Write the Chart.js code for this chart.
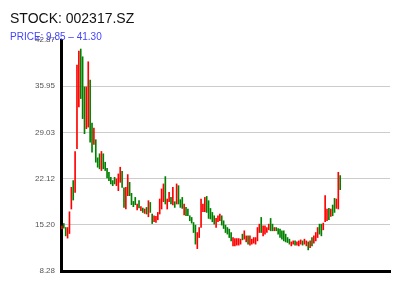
<!DOCTYPE html>
<html>
<head>
<meta charset="utf-8">
<script src="https://cdn.jsdelivr.net/npm/chart.js@4/dist/chart.umd.min.js"></script>
<style>
  body { margin: 0; background: #fff; }
  #wrap { position: relative; width: 400px; height: 300px; }
  #title { position: absolute; left: 10px; top: 10px; font: 14px "Liberation Sans", Arial, sans-serif; color: #111; }
  #subtitle { position: absolute; left: 10px; top: 31px; font: 10px "Liberation Sans", Arial, sans-serif; color: #4444ff; }
</style>
</head>
<body>
<div id="wrap">
  <canvas id="stockChart" width="400" height="300"></canvas>
  <div id="title">STOCK: 002317.SZ</div>
  <div id="subtitle">PRICE: 9.85 – 41.30</div>
</div>
<script>
const opens = [
  14.60, 15.39, 14.79, 13.20, 13.89, 17.56, 21.82, 20.06, 26.58, 32.84,
  41.52, 40.36, 35.85, 29.59, 29.83, 36.86, 30.43, 27.23, 27.94, 25.23,
  25.83, 23.32, 25.83, 24.57, 23.67, 23.06, 22.31, 21.82, 22.31, 21.06,
  20.31, 21.56, 23.21, 20.72, 17.56, 19.56, 21.56, 19.91, 18.70, 19.30,
  17.41, 18.81, 17.30, 17.71, 16.90, 17.80, 16.40, 18.55, 16.81, 15.65,
  15.54, 15.95, 16.81, 17.56, 18.66, 22.42, 17.56, 18.66, 19.30, 18.16,
  18.66, 18.31, 21.06, 18.96, 19.30, 16.66, 17.80, 17.56, 16.55, 16.30,
  15.54, 15.15, 11.63, 13.29, 14.79, 17.15, 17.15, 19.45, 18.81, 17.65,
  17.05, 16.55, 14.79, 15.65, 15.80, 16.55, 15.80, 15.15, 14.79, 14.55,
  14.04, 12.04, 12.04, 12.15, 12.15, 12.30, 13.80, 13.05, 12.64, 13.54,
  12.15, 12.30, 12.45, 12.30, 12.79, 14.04, 16.30, 13.54, 13.80, 14.04,
  14.45, 16.15, 15.30, 14.30, 14.79, 14.64, 14.55, 14.30, 14.30, 13.80,
  13.29, 13.05, 12.04, 12.30, 12.79, 12.15, 12.04, 12.30, 12.79, 12.30,
  12.04, 12.64, 11.78, 13.29, 12.45, 12.79, 13.29, 15.30, 15.30, 14.45,
  15.65, 15.80, 17.65, 16.45, 18.16, 19.15, 17.65, 17.56, 22.57
];
const closes = [
  15.05, 14.70, 13.54, 14.79, 17.15, 20.81, 18.91, 26.18, 39.11, 41.22,
  34.10, 31.10, 28.84, 35.85, 39.61, 27.58, 26.07, 29.68, 24.57, 23.82,
  23.58, 26.18, 23.58, 23.32, 22.22, 21.82, 21.32, 21.06, 21.32, 22.07,
  22.82, 23.82, 20.81, 17.80, 20.81, 22.72, 19.56, 18.21, 17.91, 18.21,
  18.31, 17.71, 17.91, 17.05, 17.56, 16.81, 18.81, 17.05, 15.39, 16.55,
  16.45, 17.05, 19.06, 20.57, 21.32, 18.31, 19.06, 20.06, 18.31, 20.81,
  17.80, 21.32, 18.31, 17.80, 17.65, 18.31, 16.55, 16.55, 15.80, 15.45,
  14.04, 12.30, 14.04, 14.79, 19.06, 18.31, 19.30, 17.05, 16.15, 16.06,
  15.65, 15.30, 16.15, 16.55, 16.81, 15.15, 14.64, 14.04, 13.80, 13.29,
  12.79, 13.29, 13.14, 13.14, 13.14, 13.05, 12.94, 14.30, 13.54, 12.30,
  13.54, 13.05, 13.29, 13.29, 14.79, 15.30, 14.04, 15.05, 15.05, 14.79,
  15.30, 14.30, 14.30, 14.79, 14.30, 13.80, 13.29, 13.05, 12.79, 12.64,
  12.54, 12.30, 12.64, 12.79, 12.15, 12.64, 12.79, 12.94, 12.15, 13.05,
  12.79, 11.44, 12.79, 12.04, 13.54, 14.04, 14.79, 13.80, 13.54, 15.45,
  19.56, 17.56, 15.95, 17.56, 16.55, 17.05, 19.06, 23.06, 20.46
];
const yTicks = [8.28, 15.20, 22.12, 29.03, 35.95, 42.87];
const totalDays = 175;

const days = Array.from({ length: totalDays }, (_, i) => "D" + (i + 1));
const bodies = opens.map((o, i) => [o, closes[i]]);
const colors = opens.map((o, i) => (closes[i] >= o ? "#ff0000" : "#008000"));

const ctx = document.getElementById("stockChart");

new Chart(ctx, {
  type: "bar",
  data: {
    labels: days,
    datasets: [
      {
        data: bodies,
        backgroundColor: colors,
        borderWidth: 0,
        barThickness: 1,
      },
    ],
  },
  options: {
    responsive: false,
    animation: false,
    layout: { padding: { left: 0, right: 10, top: 40, bottom: 29 } },
    plugins: { legend: { display: false }, tooltip: { enabled: false } },
    scales: {
      x: {
        offset: true,
        grid: { display: false, drawTicks: false },
        ticks: { display: false },
        border: { color: "#000", width: 3 },
      },
      y: {
        min: yTicks[0],
        max: yTicks[yTicks.length - 1],
        afterBuildTicks: (scale) => {
          scale.ticks = yTicks.map((v) => ({ value: v }));
        },
        afterFit: (scale) => {
          scale.width = 61;
          scale.paddingTop = 0;
          scale.paddingBottom = 0;
        },
        grid: {
          drawTicks: false,
          color: (c) => (c.index === yTicks.length - 1 ? "rgba(0,0,0,0)" : "#cccccc"),
        },
        border: { color: "#000", width: 3 },
        ticks: {
          padding: 6,
          color: "#555",
          font: { family: "Liberation Sans", size: 8 },
          callback: (v) => Number(v).toFixed(2),
        },
      },
    },
  },
});
</script>
</body>
</html>
